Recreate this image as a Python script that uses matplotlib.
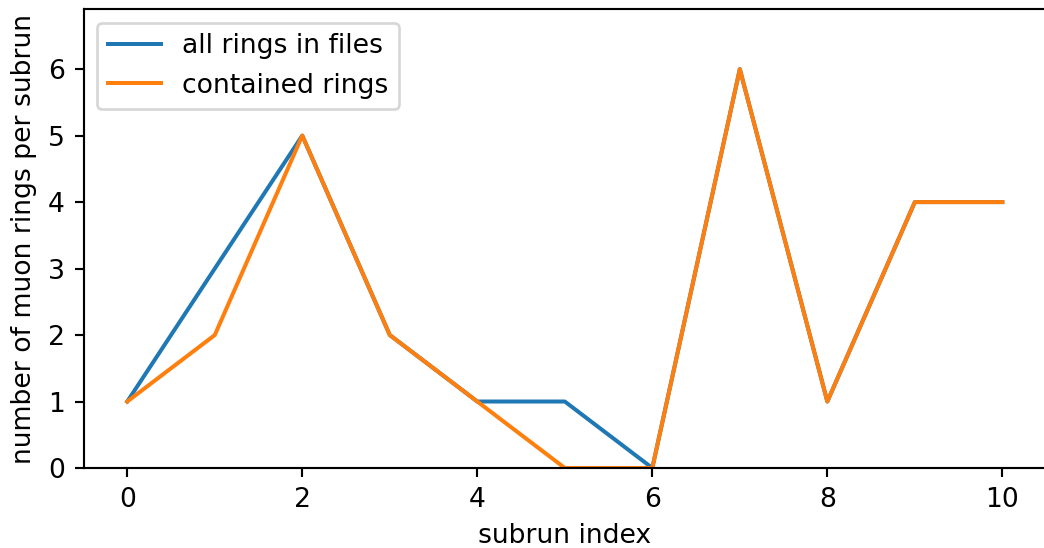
import matplotlib
matplotlib.use("Agg")
import matplotlib.pyplot as plt

subrun = list(range(11))
all_rings = [1, 3, 5, 2, 1, 1, 0, 6, 1, 4, 4]
contained_rings = [1, 2, 5, 2, 1, 0, 0, 6, 1, 4, 4]

fig, ax = plt.subplots(figsize=(1044 / 192, 548 / 192), dpi=192)
ax.plot(subrun, all_rings, label="all rings in files")
ax.plot(subrun, contained_rings, label="contained rings")
ax.set_ylim(0, max(all_rings) * 1.15)
ax.set_xlabel("subrun index")
ax.set_ylabel("number of muon rings per subrun")
ax.legend(loc="upper left")

# the original is cropped just before the right spine
fig.subplots_adjust(left=0.080, right=1.002, top=0.983, bottom=0.146)
fig.savefig("out.png", dpi=192)
